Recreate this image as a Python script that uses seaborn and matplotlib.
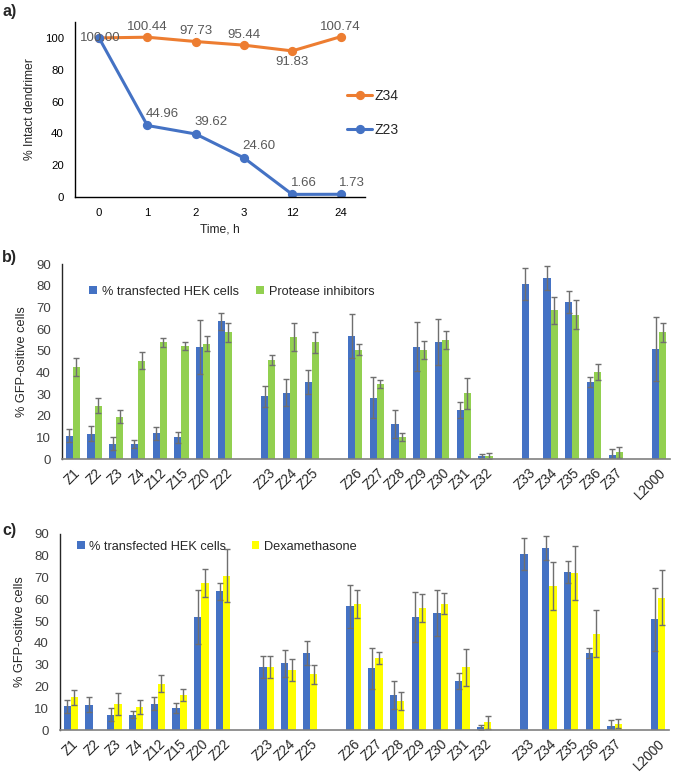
import matplotlib
matplotlib.use("Agg")
import matplotlib.pyplot as plt
import numpy as np
import pandas as pd
import seaborn as sns

sns.set_theme(style="white")
plt.rcParams["font.family"] = ["Liberation Sans", "DejaVu Sans"]

# ---- panel a: stability over time
times = ["0", "1", "2", "3", "12", "24"]
z34_intact = [100.00, 100.44, 97.73, 95.44, 91.83, 100.74]
z23_intact = [100.00, 44.96, 39.62, 24.60, 1.66, 1.73]

# ---- panels b / c: transfection
groups = [
    ["Z1", "Z2", "Z3", "Z4", "Z12", "Z15", "Z20", "Z22"],
    ["Z23", "Z24", "Z25"],
    ["Z26", "Z27", "Z28", "Z29", "Z30", "Z31", "Z32"],
    ["Z33", "Z34", "Z35", "Z36", "Z37"],
    ["L2000"],
]
samples = [s for g in groups for s in g]

hek = [10.8, 11.7, 7.1, 7.1, 12.0, 10.0, 51.8, 63.6,
       29.0, 30.6, 35.5,
       56.8, 28.3, 16.0, 51.9, 53.9, 22.6, 1.2,
       80.8, 83.6, 72.5, 35.5, 1.7,
       50.8]
hek_err = [3.1, 3.5, 3.0, 1.8, 3.0, 2.4, 12.4, 4.0,
           4.9, 6.3, 5.5,
           10.0, 9.5, 6.4, 11.4, 10.6, 3.8, 1.1,
           7.4, 5.4, 5.2, 2.3, 2.8,
           14.6]
protease = [42.5, 24.6, 19.5, 45.3, 53.8, 52.2, 53.3, 58.4,
            45.8, 56.4, 53.9,
            50.4, 34.7, 10.0, 50.4, 55.0, 30.3, 1.4,
            np.nan, 68.7, 66.7, 40.2, 3.1,
            58.4]
protease_err = [4.3, 3.5, 2.9, 3.9, 2.1, 1.8, 3.5, 4.3,
                2.3, 6.4, 4.9,
                2.6, 1.8, 1.8, 4.1, 4.1, 7.0, 1.5,
                np.nan, 6.3, 6.9, 3.5, 2.4,
                4.6]
dexa = [15.0, np.nan, 11.8, 10.6, 21.3, 16.0, 67.5, 70.9,
        29.1, 27.5, 25.6,
        57.8, 33.1, 13.3, 56.1, 58.0, 28.7, 3.5,
        np.nan, 66.3, 71.9, 44.2, 2.9,
        60.7]
dexa_err = [3.4, np.nan, 5.0, 3.4, 4.0, 2.9, 6.3, 12.1,
            5.1, 4.9, 4.4,
            6.6, 2.8, 4.2, 6.5, 4.7, 8.6, 3.1,
            np.nan, 11.0, 12.4, 10.7, 2.1,
            12.6]

# order with empty slots between groups
order = []
for k, g in enumerate(groups):
    if k:
        order.append(" " * k)
    order.extend(g)

BLUE = "#4472C4"
ORANGE = "#ED7D31"
GREEN = "#92D050"
YELLOW = "#FFFF00"
ERR = "#6f6f6f"

fig = plt.figure(figsize=(7, 7.8), dpi=100)

# ================= panel a
ax_a = fig.add_axes([0.107, 0.7474, 0.414, 0.2244])
df_a = pd.DataFrame({
    "time": times * 2,
    "value": z34_intact + z23_intact,
    "sample": ["Z34"] * len(times) + ["Z23"] * len(times),
})
sns.pointplot(data=df_a, x="time", y="value", hue="sample", order=times,
              hue_order=["Z34", "Z23"], palette=[ORANGE, BLUE],
              markers="o", errorbar=None, linewidth=2.2, markersize=5,
              ax=ax_a)
ax_a.set_ylim(0, 110)
ax_a.set_yticks(range(0, 101, 20))
ax_a.set_xlim(-0.5, len(times) - 0.5)
ax_a.set_xlabel("Time, h", fontsize=8.7, labelpad=4)
ax_a.set_ylabel("% Intact dendrimer", fontsize=8.7, labelpad=6)
ax_a.tick_params(axis="both", length=0, labelsize=8.2, pad=8, colors="#000000")
for s in ["top", "right"]:
    ax_a.spines[s].set_visible(False)
for s in ["left", "bottom"]:
    ax_a.spines[s].set_color("#000000")
    ax_a.spines[s].set_linewidth(1.0)

lab_kw = dict(textcoords="offset points", fontsize=9.5, color="#595959")
for i, v in enumerate(z34_intact):
    if i == 0:
        ax_a.annotate(f"{v:.2f}", (i, v), xytext=(1, 0), ha="center", va="center", **lab_kw)
    elif i == 4:
        ax_a.annotate(f"{v:.2f}", (i, v), xytext=(0, -4), ha="center", va="top", **lab_kw)
    else:
        ax_a.annotate(f"{v:.2f}", (i, v), xytext=(0, 3), ha="center", va="bottom", **lab_kw)
for i, v in enumerate(z23_intact):
    if i == 0:
        continue
    ax_a.annotate(f"{v:.2f}", (i, v), xytext=(-1, 4), ha="left", va="bottom", **lab_kw)

h, l = ax_a.get_legend_handles_labels()
ax_a.legend(h, l, loc="center left", bbox_to_anchor=(0.94, 0.48), frameon=False,
            fontsize=10, handlelength=1.8, handletextpad=0.15, labelspacing=1.4,
            borderaxespad=0, borderpad=0)


# ================= panels b / c
def bar_panel(ax, treat, treat_err, treat_name, treat_color, legend_anchor, colsp):
    df = pd.DataFrame({
        "sample": samples * 2,
        "value": hek + treat,
        "err": hek_err + treat_err,
        "series": ["% transfected HEK cells"] * len(samples) + [treat_name] * len(samples),
    }).dropna()
    hue_order = ["% transfected HEK cells", treat_name]
    width = 0.66
    sns.barplot(data=df, x="sample", y="value", hue="series", order=order,
                hue_order=hue_order, palette=[BLUE, treat_color], saturation=1,
                width=width, errorbar=None, linewidth=0, ax=ax)
    for j, name in enumerate(hue_order):
        sub = df[df["series"] == name]
        xs = [order.index(s) + (j - 0.5) * width / 2 for s in sub["sample"]]
        ax.errorbar(xs, sub["value"], yerr=sub["err"], fmt="none", ecolor=ERR,
                    elinewidth=1.0, capsize=2.2, capthick=1.0)
    ax.set_ylim(0, 90)
    ax.set_yticks(range(0, 91, 10))
    ax.set_xlim(-0.5, len(order) - 0.5)
    ax.set_xlabel("")
    ax.set_ylabel("% GFP-ositive cells", fontsize=9.2, labelpad=6)
    ax.tick_params(axis="y", length=0, labelsize=9.5, pad=8, colors="#404040")
    ax.tick_params(axis="x", length=0, labelsize=9.8, pad=5)
    plt.setp(ax.get_xticklabels(), rotation=45, ha="right", rotation_mode="anchor")
    for s in ["top", "right"]:
        ax.spines[s].set_visible(False)
    ax.spines["left"].set_color("#262626")
    ax.spines["left"].set_linewidth(1.0)
    ax.spines["bottom"].set_color("#808080")
    ax.spines["bottom"].set_linewidth(1.2)
    h, l = ax.get_legend_handles_labels()
    ax.legend(h, l, loc="center left", bbox_to_anchor=legend_anchor, ncol=2,
              frameon=False, fontsize=9.2, handlelength=0.6, handleheight=0.6,
              handletextpad=0.35, columnspacing=colsp, borderaxespad=0, borderpad=0)


ax_b = fig.add_axes([0.0886, 0.4115, 0.8686, 0.25])
bar_panel(ax_b, protease, protease_err, "Protease inhibitors", GREEN, (0.045, 0.857), 1.4)

ax_c = fig.add_axes([0.0857, 0.0641, 0.870, 0.2513])
bar_panel(ax_c, dexa, dexa_err, "Dexamethasone", YELLOW, (0.028, 0.934), 2.0)

for txt, y in [("a)", 0.985), ("b)", 0.67), ("c)", 0.32)]:
    fig.text(0.003, y, txt, fontsize=11.5, fontweight="bold", va="center", ha="left")

fig.savefig("out.png", dpi=100, facecolor="white")
